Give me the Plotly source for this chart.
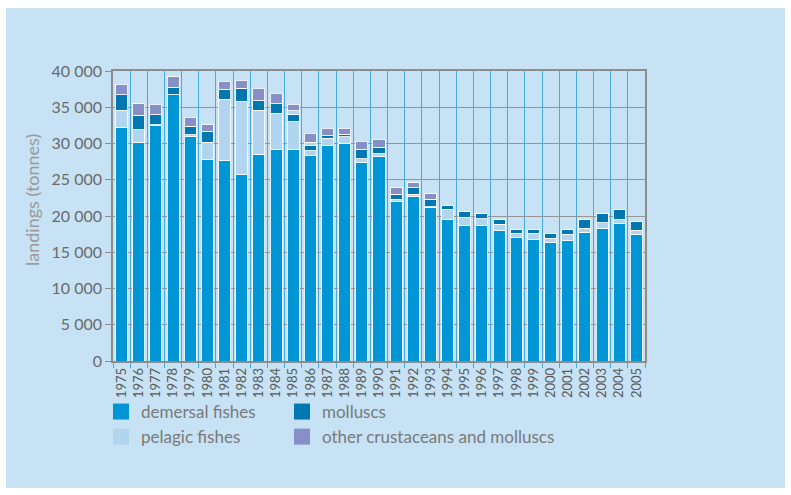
import plotly.graph_objects as go

# Landings by species group, tonnes
years = [str(y) for y in range(1975, 2006)]
demersal = [32200, 30200, 32500, 36700, 31000, 27800, 27600, 25700, 28500, 29200,
            29200, 28400, 29700, 30000, 27400, 28200, 22000, 22700, 21200, 19500,
            18700, 18700, 17950, 17050, 16700, 16300, 16600, 17750, 18250, 19000, 17400]
pelagic = [2400, 1700, 100, 0, 200, 2400, 8500, 10100, 6100, 5000,
           3800, 600, 1000, 900, 500, 400, 300, 300, 100, 1400,
           1100, 900, 900, 600, 950, 650, 900, 550, 800, 450, 650]
molluscs = [2100, 2000, 1400, 1000, 1200, 1500, 1400, 1800, 1300, 1300,
            1000, 700, 400, 400, 1300, 900, 700, 900, 1000, 500,
            800, 700, 600, 550, 550, 700, 600, 1150, 1250, 1500, 1250]
crustaceans = [0, 0, 0, 0, 0, 0, 0, 0, 0, 0,
               500, 500, 0, 0, 0, 0, 0, 0, 0, 0,
               0, 0, 0, 0, 0, 0, 0, 0, 0, 0, 0]
other = [1500, 1600, 1400, 1500, 1200, 900, 1100, 1100, 1700, 1400,
         900, 1200, 1000, 800, 1100, 1100, 900, 700, 800, 0,
         0, 0, 0, 0, 0, 0, 0, 0, 0, 0, 0]

y_ticks = list(range(0, 40001, 5000))
y_labels = [f"{v:,}".replace(",", " ") for v in y_ticks]

C_DEM = "#0096d6"
C_PEL = "#b1d4ef"
C_MOL = "#0077b0"
C_OTH = "#8790c6"
PANEL = "#c6e2f4"

FONT = "Lato"

# plot area in pixels
W, H = 791, 495
L, R, T, B = 113, 645, 71, 361


def px_x(p):
    return (p - L) / (R - L)


def px_y(p):
    return (B - p) / (B - T)


fig = go.Figure()

stack = [
    ("demersal fishes", demersal, C_DEM),
    ("pelagic fishes", pelagic, C_PEL),
    ("molluscs", molluscs, C_MOL),
    ("crustaceans", crustaceans, C_PEL),
    ("other crustaceans and molluscs", other, C_OTH),
]
for name, vals, col in stack:
    fig.add_trace(go.Bar(
        x=years, y=vals, name=name, showlegend=False,
        marker=dict(color=col, line=dict(color="rgba(255,255,255,0.85)", width=1)),
    ))

# legend entries with square swatches, in two columns
legend_items = [
    ("demersal fishes", C_DEM, "legend"),
    ("pelagic fishes", C_PEL, "legend"),
    ("molluscs", C_MOL, "legend2"),
    ("other crustaceans and molluscs", C_OTH, "legend2"),
]
for name, col, lg in legend_items:
    fig.add_trace(go.Scatter(
        x=[None], y=[None], mode="markers", name=name, legend=lg,
        marker=dict(symbol="square", size=16, color=col),
    ))

legend_common = dict(
    orientation="v", xanchor="left", yanchor="top", traceorder="normal",
    bgcolor="rgba(0,0,0,0)", font=dict(family=FONT, size=17, color="#7a7a7a"),
    tracegroupgap=0, itemclick=False,
)

fig.update_layout(
    width=W, height=H,
    margin=dict(l=L, r=W - R, t=T, b=H - B, pad=0),
    paper_bgcolor="white",
    plot_bgcolor="#f1f7fc",
    barmode="stack",
    bargap=0.3,
    showlegend=True,
    legend=dict(x=px_x(101), y=px_y(394), **legend_common),
    legend2=dict(x=px_x(282), y=px_y(394), **legend_common),
    font=dict(family=FONT),
    xaxis=dict(
        type="category", tickson="boundaries", showgrid=True,
        gridcolor="#45ace2", gridwidth=1,
        ticks="outside", ticklen=5, tickcolor="#45ace2",
        tickangle=-90, tickfont=dict(family=FONT, size=13, color="#5a5a5a"),
        showline=True, linecolor="#8c8c8c", linewidth=1.5, mirror=True,
        automargin=False, range=[-0.5, len(years) - 0.5],
    ),
    yaxis=dict(
        range=[0, 40000], tickvals=y_ticks, ticktext=y_labels,
        showgrid=True, gridcolor="#959595", gridwidth=1,
        ticks="outside", ticklen=6, tickcolor="#8c8c8c",
        tickfont=dict(family=FONT, size=16, color="#6a6a6a"),
        showline=True, linecolor="#8c8c8c", linewidth=1.5, mirror=True,
        zeroline=False, automargin=False,
    ),
    shapes=[dict(
        type="rect", xref="paper", yref="paper", layer="below",
        x0=px_x(6), x1=px_x(785), y0=px_y(488), y1=px_y(8),
        fillcolor=PANEL, line=dict(width=0),
    )],
    annotations=[dict(
        text="landings (tonnes)", textangle=-90, showarrow=False,
        xref="paper", yref="paper", x=px_x(32), y=px_y(200),
        xanchor="center", yanchor="middle",
        font=dict(family=FONT, size=18, color="#9a9a9a"),
    )],
)

fig.write_html("out.html")
